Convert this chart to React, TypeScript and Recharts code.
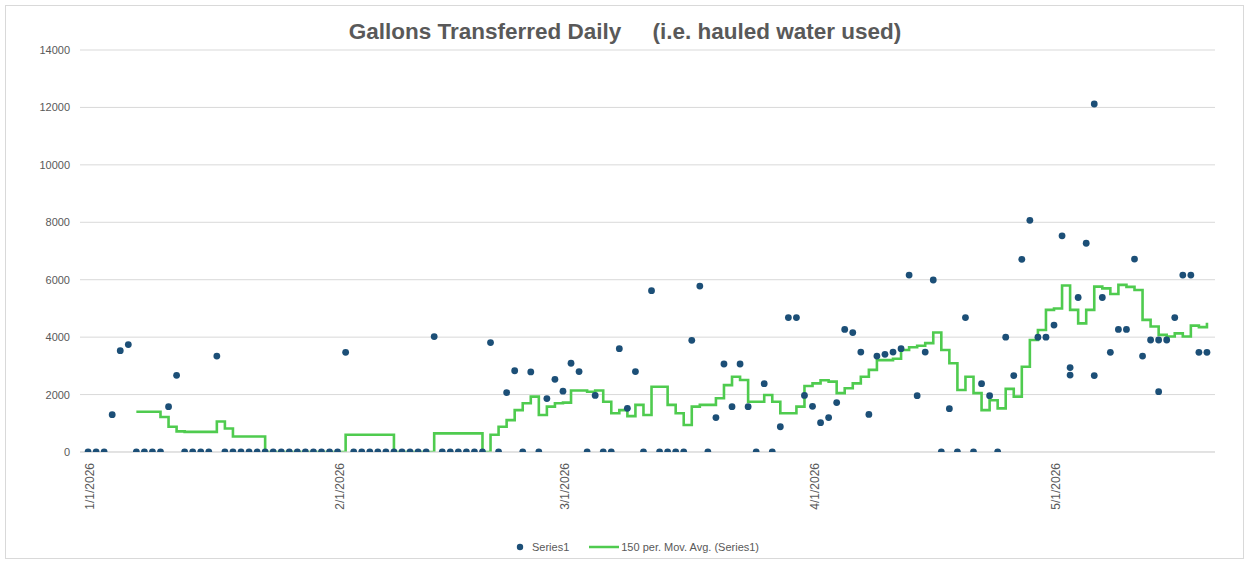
import React from 'react';
import { ComposedChart, Scatter, Line, XAxis, YAxis, CartesianGrid, Legend } from 'recharts';

// Day index 0 = 1/1/2026
const TICK_DAYS = [0, 31, 59, 90, 120];
const TICK_LABELS = ['1/1/2026', '2/1/2026', '3/1/2026', '4/1/2026', '5/1/2026'];
const Y_TICKS = [0, 2000, 4000, 6000, 8000, 10000, 12000, 14000];

// Gallons transferred per day (day 0 .. 139)
const DAILY_GALLONS = [
  0, 0, 0, 1300, 3530, 3740, 0, 0, 0, 0,
  1580, 2670, 0, 0, 0, 0, 3340, 0, 0, 0,
  0, 0, 0, 0, 0, 0, 0, 0, 0, 0,
  0, 0, 3470, 0, 0, 0, 0, 0, 0, 0,
  0, 0, 0, 4020, 0, 0, 0, 0, 0, 0,
  3810, 0, 2070, 2830, 0, 2790, 0, 1860, 2530, 2120,
  3090, 2800, 0, 1970, 0, 0, 3600, 1520, 2800, 0,
  5620, 0, 0, 0, 0, 3890, 5780, 0, 1200, 3065,
  1580, 3065, 1580, 0, 2380, 0, 880, 4680, 4680, 1970,
  1590, 1020, 1200, 1720, 4270, 4160, 3480, 1310, 3340, 3400,
  3480, 3600, 6160, 1960, 3480, 5990, 0, 1510, 0, 4680,
  0, 2380, 1960, 0, 4000, 2660, 6710, 8070, 4000, 4000,
  4420, 7530, 2940, 5380, 7270, 2660, 5380, 3470, 4270, 4270,
  6720, 3340, 3900, 3900, 3900, 4680, 6160, 6160, 3470, 3470,
];

// Second readings on the same day
const EXTRA_DAYS = [122, 125, 133];
const EXTRA_GALLONS = [2680, 12120, 2100];

// Moving average, day 0 .. 139
const MOVING_AVG = [
  null, null, null, null, null, null, 1400, 1400, 1400, 1220,
  880, 720, 700, 700, 700, 700, 1060, 820, 540, 540,
  540, 540, 0, 0, 0, 0, 0, 0, 0, 0,
  0, 0, 600, 600, 600, 600, 600, 600, 0, 0,
  0, 0, 0, 650, 650, 650, 650, 650, 650, 0,
  600, 880, 1110, 1460, 1700, 1930, 1290, 1580, 1700, 1720,
  2140, 2140, 2100, 2140, 1750, 1350, 1460, 1250, 1640, 1290,
  2270, 2270, 1640, 1350, 940, 1580, 1640, 1640, 1870, 2330,
  2620, 2510, 1750, 1750, 1985, 1750, 1350, 1350, 1580, 2300,
  2390, 2500, 2450, 2050, 2220, 2390, 2620, 2860, 3200, 3200,
  3250, 3550, 3650, 3700, 3790, 4160, 3550, 3090, 2160, 2620,
  2050, 1460, 1800, 1520, 2200, 1930, 2970, 3900, 4250, 4950,
  5000, 5800, 4950, 4480, 4950, 5760, 5700, 5500, 5820, 5750,
  5640, 4600, 4370, 4080, 4020, 4130, 4020, 4400, 4350, 4500,
];

const SERIES_NAME = 'Series1';
const AVG_NAME = '150 per. Mov. Avg. (Series1)';
const TITLE = 'Gallons Transferred Daily     (i.e. hauled water used)';

const scatterData = DAILY_GALLONS.map((g, i) => ({ day: i, gallons: g })).concat(
  EXTRA_DAYS.map((d, i) => ({ day: d, gallons: EXTRA_GALLONS[i] }))
);
const lineData = MOVING_AVG.map((v, i) => ({ day: i, avg: v }));

const DOT_COLOR = '#1c4f77';
const LINE_COLOR = '#4fcb4f';
const TEXT_COLOR = '#595959';
const FONT = '"Liberation Sans", Arial, sans-serif';

const renderDot = (props: any) => {
  if (props.cx == null || props.cy == null) return <g />;
  return <circle cx={props.cx} cy={props.cy} r={3.4} fill={DOT_COLOR} />;
};

const XTick = (props: any) => {
  const { x, y, payload } = props;
  const idx = TICK_DAYS.indexOf(payload.value);
  return (
    <text
      transform={`translate(${x + 6},${y + 3}) rotate(-90)`}
      textAnchor="end"
      fontSize={12}
      fill={TEXT_COLOR}
      fontFamily={FONT}
    >
      {idx >= 0 ? TICK_LABELS[idx] : ''}
    </text>
  );
};

const YTick = (props: any) => {
  const { y, payload } = props;
  return (
    <text x={70} y={y + 4} textAnchor="end" fontSize={11} fill={TEXT_COLOR} fontFamily={FONT}>
      {payload.value}
    </text>
  );
};

const LegendContent = () => (
  <div
    style={{
      display: 'flex',
      justifyContent: 'center',
      alignItems: 'center',
      fontFamily: FONT,
      fontSize: 11,
      color: TEXT_COLOR,
      gap: 20,
    }}
  >
    <span style={{ display: 'flex', alignItems: 'center', gap: 8 }}>
      <svg width={8} height={8}>
        <circle cx={4} cy={4} r={3.2} fill={DOT_COLOR} />
      </svg>
      {SERIES_NAME}
    </span>
    <span style={{ display: 'flex', alignItems: 'center', gap: 2 }}>
      <svg width={30} height={6}>
        <line x1={0} y1={3} x2={30} y2={3} stroke={LINE_COLOR} strokeWidth={2.5} />
      </svg>
      {AVG_NAME}
    </span>
  </div>
);

export default function App() {
  return (
    <div style={{ position: 'absolute', left: 0, top: 0, width: 1250, height: 565, background: '#fff' }}>
      <div
        style={{
          position: 'absolute',
          left: 5,
          top: 5,
          width: 1239,
          height: 554,
          border: '1px solid #d9d9d9',
          boxSizing: 'border-box',
        }}
      />
      <div
        style={{
          position: 'absolute',
          left: 0,
          top: 19,
          width: 1250,
          textAlign: 'center',
          fontFamily: FONT,
          fontWeight: 'bold',
          fontSize: 22.5,
          color: TEXT_COLOR,
          whiteSpace: 'pre',
        }}
      >
        {TITLE}
      </div>
      <ComposedChart
        width={1250}
        height={565}
        margin={{ top: 50, right: 35, bottom: 53, left: 0 }}
        style={{ position: 'absolute', left: 0, top: 0 }}
      >
        <CartesianGrid vertical={false} stroke="#d9d9d9" />
        <XAxis
          type="number"
          dataKey="day"
          domain={[-1, 140]}
          ticks={TICK_DAYS}
          interval={0}
          height={60}
          tick={<XTick />}
          tickLine={false}
          axisLine={{ stroke: '#d9d9d9' }}
          allowDataOverflow
        />
        <YAxis
          type="number"
          width={80}
          domain={[0, 14000]}
          ticks={Y_TICKS}
          interval={0}
          tick={<YTick />}
          tickLine={false}
          axisLine={false}
          allowDataOverflow
        />
        <Scatter
          name={SERIES_NAME}
          data={scatterData}
          dataKey="gallons"
          shape={renderDot}
          isAnimationActive={false}
        />
        <Line
          name={AVG_NAME}
          data={lineData}
          dataKey="avg"
          type="stepAfter"
          stroke={LINE_COLOR}
          strokeWidth={2.6}
          dot={false}
          activeDot={false}
          connectNulls={false}
          isAnimationActive={false}
        />
        <Legend
          verticalAlign="middle"
          align="center"
          layout="horizontal"
          content={<LegendContent />}
          wrapperStyle={{ top: 541, left: 70, width: 1135, height: 16 }}
        />
      </ComposedChart>
    </div>
  );
}
